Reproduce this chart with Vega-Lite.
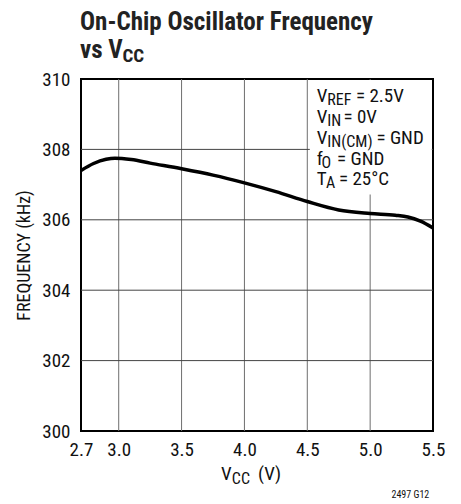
{
  "$schema": "https://vega.github.io/schema/vega-lite/v6.json",
  "width": 352,
  "height": 352,
  "autosize": {"type": "none"},
  "padding": {"left": 81, "top": 79, "right": 28, "bottom": 73},
  "background": "white",
  "config": {
    "font": "Liberation Sans Narrow, Roboto Condensed, DejaVu Sans Condensed, sans-serif",
    "view": {"stroke": "black", "strokeWidth": 2}
  },
  "datasets": {
    "vgrid": [{"x": 3.0}, {"x": 3.5}, {"x": 4.0}, {"x": 4.5}, {"x": 5.0}],
    "hgrid": [{"y": 302}, {"y": 304}, {"y": 306}, {"y": 308}],
    "box": [{"x": 4.52, "x2": 5.49, "y": 309.97, "y2": 306.72}],
    "curve": [
      {"vcc": 2.7, "freq": 307.4},
      {"vcc": 2.8, "freq": 307.6},
      {"vcc": 2.9, "freq": 307.72},
      {"vcc": 2.97, "freq": 307.75},
      {"vcc": 3.1, "freq": 307.71},
      {"vcc": 3.25, "freq": 307.61},
      {"vcc": 3.5, "freq": 307.45},
      {"vcc": 3.75, "freq": 307.27},
      {"vcc": 4.0, "freq": 307.05},
      {"vcc": 4.25, "freq": 306.8},
      {"vcc": 4.5, "freq": 306.52},
      {"vcc": 4.75, "freq": 306.28},
      {"vcc": 5.0, "freq": 306.18},
      {"vcc": 5.2, "freq": 306.13},
      {"vcc": 5.3, "freq": 306.08},
      {"vcc": 5.4, "freq": 305.96},
      {"vcc": 5.5, "freq": 305.77}
    ],
    "notes": [
      {"text": "V", "x": 4.575, "y": 309.36},
      {"text": "= 2.5V", "x": 4.8876, "y": 309.36},
      {"text": "V", "x": 4.575, "y": 308.76},
      {"text": "= 0V", "x": 4.788, "y": 308.76},
      {"text": "V", "x": 4.575, "y": 308.16},
      {"text": "= GND", "x": 5.05, "y": 308.16},
      {"text": "f", "x": 4.575, "y": 307.57},
      {"text": "= GND", "x": 4.7365, "y": 307.57},
      {"text": "T", "x": 4.575, "y": 307.0},
      {"text": "= 25°C", "x": 4.7524, "y": 307.0},
      {"text": "V", "x": 3.814, "y": 298.61},
      {"text": "(V)", "x": 4.108, "y": 298.61}
    ],
    "subs": [
      {"text": "REF", "x": 4.6593, "y": 309.27},
      {"text": "IN", "x": 4.6593, "y": 308.67},
      {"text": "IN(CM)", "x": 4.6593, "y": 308.07},
      {"text": "O", "x": 4.6135, "y": 307.48},
      {"text": "A", "x": 4.649, "y": 306.91},
      {"text": "CC", "x": 3.9, "y": 298.5}
    ],
    "titles": [
      {"text": "On-Chip Oscillator Frequency", "x": 2.692, "y": 311.39},
      {"text": "vs V", "x": 2.692, "y": 310.6}
    ],
    "titlesubs": [
      {"text": "CC", "x": 3.03, "y": 310.47}
    ],
    "code": [
      {"text": "2497 G12", "x": 5.32, "y": 298.1}
    ]
  },
  "encoding": {
    "x": {
      "field": "x",
      "type": "quantitative",
      "scale": {"domain": [2.7, 5.5], "nice": false, "zero": false},
      "axis": {
        "values": [2.7, 3.0, 3.5, 4.0, 4.5, 5.0, 5.5],
        "format": ".1f",
        "title": null,
        "ticks": false,
        "domain": false,
        "grid": false,
        "labelFontSize": 19,
        "labelColor": "#111",
        "labelPadding": 9,
        "labelFlush": false
      }
    },
    "y": {
      "field": "y",
      "type": "quantitative",
      "scale": {"domain": [300, 310], "nice": false, "zero": false},
      "axis": {
        "values": [300, 302, 304, 306, 308, 310],
        "title": "FREQUENCY (kHz)",
        "titleFontSize": 18,
        "titleFontWeight": "normal",
        "titleColor": "#111",
        "titleAngle": 270,
        "titleX": -57,
        "titleY": 176,
        "titleAlign": "center",
        "titleBaseline": "middle",
        "ticks": false,
        "domain": false,
        "grid": false,
        "labelFontSize": 19,
        "labelColor": "#111",
        "labelPadding": 11
      }
    }
  },
  "layer": [
    {
      "data": {"name": "vgrid"},
      "mark": {"type": "rule", "color": "#6e6e6e", "strokeWidth": 1},
      "encoding": {"y": null}
    },
    {
      "data": {"name": "hgrid"},
      "mark": {"type": "rule", "color": "#444", "strokeWidth": 1},
      "encoding": {"x": null}
    },
    {
      "data": {"name": "box"},
      "mark": {"type": "rect", "fill": "white", "opacity": 1, "fillOpacity": 1, "strokeWidth": 0},
      "encoding": {
        "x2": {"field": "x2"},
        "y2": {"field": "y2"}
      }
    },
    {
      "data": {"name": "curve"},
      "mark": {"type": "line", "color": "black", "strokeWidth": 3.5, "interpolate": "monotone"},
      "encoding": {
        "x": {"field": "vcc", "type": "quantitative"},
        "y": {"field": "freq", "type": "quantitative"}
      }
    },
    {
      "data": {"name": "notes"},
      "mark": {"type": "text", "align": "left", "baseline": "alphabetic", "fontSize": 19, "color": "#111"},
      "encoding": {"text": {"field": "text"}}
    },
    {
      "data": {"name": "subs"},
      "mark": {"type": "text", "align": "left", "baseline": "alphabetic", "fontSize": 16, "color": "#111"},
      "encoding": {"text": {"field": "text"}}
    },
    {
      "data": {"name": "titles"},
      "mark": {"type": "text", "align": "left", "baseline": "alphabetic", "fontSize": 25, "fontWeight": "bold", "color": "#222"},
      "encoding": {"text": {"field": "text"}}
    },
    {
      "data": {"name": "titlesubs"},
      "mark": {"type": "text", "align": "left", "baseline": "alphabetic", "fontSize": 19, "fontWeight": "bold", "color": "#222"},
      "encoding": {"text": {"field": "text"}}
    },
    {
      "data": {"name": "code"},
      "mark": {"type": "text", "align": "center", "baseline": "alphabetic", "fontSize": 10, "color": "#111"},
      "encoding": {"text": {"field": "text"}}
    }
  ]
}
